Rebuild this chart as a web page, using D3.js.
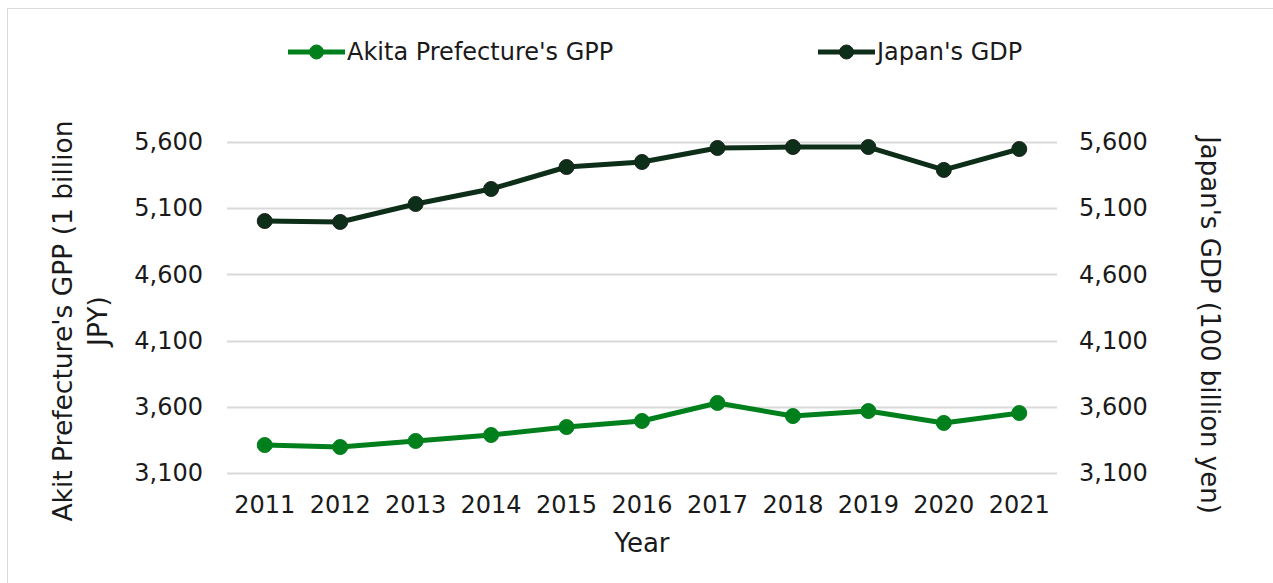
<!DOCTYPE html>
<html>
<head>
<meta charset="utf-8">
<script src="https://cdn.jsdelivr.net/npm/d3@7"></script>
<style>
  body { margin: 0; background: #fff; }
  svg { font-family: "DejaVu Sans", Verdana, sans-serif; }
</style>
</head>
<body>
<div id="chart"></div>
<script>
// years on the x axis
const years = ["2011", "2012", "2013", "2014", "2015", "2016", "2017", "2018", "2019", "2020", "2021"];
// Akita Prefecture's GPP (1 billion JPY)
const akitaGpp = [3311, 3296, 3342, 3387, 3447, 3493, 3629, 3530, 3568, 3478, 3553];
// Japan's GDP (100 billion yen)
const japanGdp = [5003, 4996, 5132, 5245, 5411, 5449, 5555, 5562, 5562, 5389, 5547];
// tick values shared by both y axes
const yTicks = [3100, 3600, 4100, 4600, 5100, 5600];

const width = 1273;
const height = 583;
const plot = { left: 227, right: 1057, top: 142, bottom: 473 };

const svg = d3.select("#chart")
  .append("svg")
  .attr("width", width)
  .attr("height", height);

// outer frame
svg.append("rect")
  .attr("x", 7.5).attr("y", 8.5)
  .attr("width", width).attr("height", height)
  .attr("fill", "none")
  .attr("stroke", "#d9d9d9");

const x = d3.scaleBand()
  .domain(years)
  .range([plot.left, plot.right])
  .padding(0);

const yLeft = d3.scaleLinear()
  .domain([3100, 5600])
  .range([plot.bottom, plot.top]);

const yRight = d3.scaleLinear()
  .domain([3100, 5600])
  .range([plot.bottom, plot.top]);

// gridlines
svg.append("g")
  .selectAll("line")
  .data(yTicks)
  .enter()
  .append("line")
  .attr("x1", plot.left)
  .attr("x2", plot.right)
  .attr("y1", d => Math.round(yLeft(d)) + 0.5)
  .attr("y2", d => Math.round(yLeft(d)) + 0.5)
  .attr("stroke", "#d9d9d9")
  .attr("stroke-width", 2);

const fmt = d3.format(",");

// left axis
const gl = svg.append("g")
  .attr("transform", `translate(${plot.left - 24},0)`)
  .call(d3.axisLeft(yLeft).tickValues(yTicks).tickFormat(fmt).tickSize(0).tickPadding(0));
gl.select(".domain").remove();

// right axis
const gr = svg.append("g")
  .attr("transform", `translate(${plot.right + 22},0)`)
  .call(d3.axisRight(yRight).tickValues(yTicks).tickFormat(fmt).tickSize(0).tickPadding(0));
gr.select(".domain").remove();

// x axis
const gx = svg.append("g")
  .attr("transform", `translate(0,505)`)
  .call(d3.axisBottom(x).tickSize(0).tickPadding(0));
gx.select(".domain").remove();

svg.selectAll(".tick text")
  .attr("font-family", "DejaVu Sans, Verdana, sans-serif")
  .attr("font-size", 24)
  .attr("fill", "#1a1a1a");
gx.selectAll(".tick text").attr("dy", "0.35em");

// axis titles
svg.append("text")
  .attr("transform", `translate(${(plot.left + plot.right) / 2}, 543) `)
  .attr("text-anchor", "middle")
  .attr("dy", "0.35em")
  .attr("font-size", 26)
  .attr("fill", "#1a1a1a")
  .text("Year");

const leftTitle = svg.append("text")
  .attr("transform", "translate(63, 321) rotate(-90)")
  .attr("text-anchor", "middle")
  .attr("font-size", 26.5)
  .attr("fill", "#1a1a1a");
leftTitle.append("tspan").attr("x", 0).attr("dy", "0.35em").text("Akit Prefecture's GPP (1 billion");
leftTitle.append("tspan").attr("x", 0).attr("dy", "1.3em").text("JPY)");

svg.append("text")
  .attr("transform", "translate(1210, 325) rotate(90)")
  .attr("text-anchor", "middle")
  .attr("dy", "0.35em")
  .attr("font-size", 26)
  .attr("fill", "#1a1a1a")
  .text("Japan's GDP (100 billion yen)");

// series
const series = [
  { name: "Akita Prefecture's GPP", values: akitaGpp, y: yLeft, color: "#00801c", edge: "#00801c", legendX: 288 },
  { name: "Japan's GDP", values: japanGdp, y: yRight, color: "#0d2e18", edge: "#1c241e", legendX: 818 }
];

const line = (yScale) => d3.line()
  .x((d, i) => x(years[i]) + x.bandwidth() / 2)
  .y(d => yScale(d));

series.forEach(s => {
  svg.append("path")
    .datum(s.values)
    .attr("fill", "none")
    .attr("stroke", s.color)
    .attr("stroke-width", 5)
    .attr("stroke-linejoin", "round")
    .attr("d", line(s.y));

  svg.append("g")
    .selectAll("circle")
    .data(s.values)
    .enter()
    .append("circle")
    .attr("cx", (d, i) => x(years[i]) + x.bandwidth() / 2)
    .attr("cy", d => s.y(d))
    .attr("r", 7.5)
    .attr("fill", s.color)
    .attr("stroke", s.edge)
    .attr("stroke-width", 1);

  // legend
  const lg = svg.append("g").attr("transform", `translate(${s.legendX}, 52)`);
  lg.append("line")
    .attr("x1", 0).attr("x2", 57)
    .attr("stroke", s.color)
    .attr("stroke-width", 5);
  lg.append("circle")
    .attr("cx", 28.5).attr("r", 7)
    .attr("fill", s.color)
    .attr("stroke", s.edge);
  lg.append("text")
    .attr("x", 59)
    .attr("dy", "0.35em")
    .attr("font-size", 24)
    .attr("fill", "#1a1a1a")
    .text(s.name);
});
</script>
</body>
</html>
